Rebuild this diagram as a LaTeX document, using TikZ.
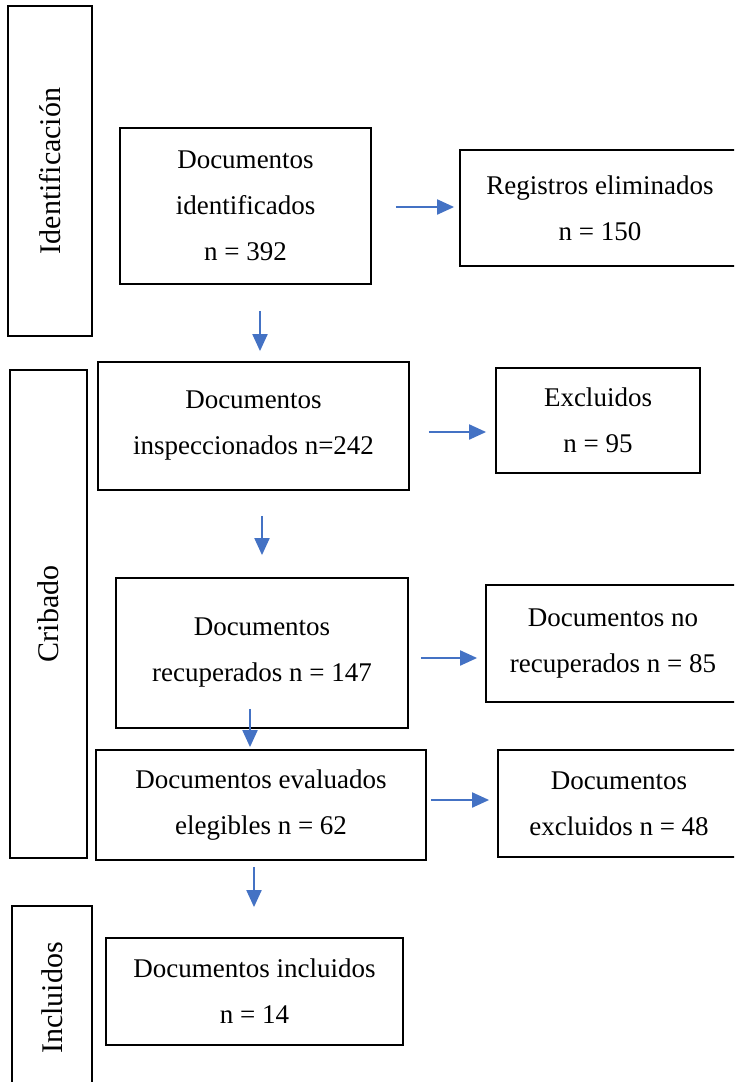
\documentclass[tikz,border=0pt]{standalone}
\usepackage{fontspec}
\setmainfont{Liberation Serif}
\usetikzlibrary{arrows.meta}
\definecolor{azulflecha}{HTML}{4472C4}

\begin{document}
\begin{tikzpicture}[x=1pt,y=-1pt,
    caja/.style={draw,line width=1.8pt,align=center,inner sep=0pt,font=\fontsize{27}{46}\selectfont},
    fase/.style={draw,line width=1.8pt,inner sep=0pt,rotate=90,font=\fontsize{30}{36}\selectfont},
    flecha/.style={draw=azulflecha,line width=2pt,-{Triangle[length=17pt,width=15pt]}}]
                \useasboundingbox (0,0) rectangle (734,1082);
                \clip (0,0) rectangle (734,1082);

                % fases
                \node[fase,minimum width=330pt,minimum height=84pt] (fid) at (50,171) {Identificación};
                \node[fase,minimum width=488pt,minimum height=77pt] (fcr) at (48.5,614) {Cribado};
                \node[fase,minimum width=184pt,minimum height=80pt] (fin) at (52,998) {Incluidos};

                % cajas
                \node[caja,minimum width=251pt,minimum height=156pt] (idn) at (245.5,206) {Documentos\\identificados\\n = 392};
                \node[caja,minimum width=280pt,minimum height=116pt] (reg) at (600,208) {Registros eliminados\\n = 150};

                \node[caja,minimum width=311pt,minimum height=128pt] (insp) at (253.5,426) {Documentos\\inspeccionados n=242};
                \node[caja,minimum width=204pt,minimum height=105pt] (excl) at (598,420.5) {Excluidos\\n = 95};

                \node[caja,minimum width=292pt,minimum height=150pt] (recu) at (262,653) {Documentos\\recuperados n = 147};
                \node[caja,minimum width=254pt,minimum height=117pt] (norec) at (613,643.5) {Documentos no\\recuperados n = 85};

                \node[caja,minimum width=330pt,minimum height=110pt] (eval) at (261,805) {Documentos evaluados\\elegibles n = 62};
                \node[caja,minimum width=242pt,minimum height=107pt] (exclu) at (619,803.5) {Documentos\\excluidos n = 48};

                \node[caja,minimum width=297pt,minimum height=107pt] (incl) at (254.5,991.5) {Documentos incluidos\\n = 14};

                % flechas
                \draw[flecha,shorten <=24pt,shorten >=5pt] (idn.east |- 0,207) -- (reg.west |- 0,207);
                \draw[flecha,shorten <=26pt,shorten >=10pt] (260,0 |- idn.south) -- (260,0 |- insp.north);
                \draw[flecha,shorten <=19pt,shorten >=9pt] (insp.east |- 0,432) -- (excl.west |- 0,432);
                \draw[flecha,shorten <=25pt,shorten >=22pt] (262,0 |- insp.south) -- (262,0 |- recu.north);
                \draw[flecha,shorten <=12pt,shorten >=8pt] (recu.east |- 0,658) -- (norec.west |- 0,658);
                \draw[flecha,shorten <=-20pt,shorten >=2pt] (250,0 |- recu.south) -- (250,0 |- eval.north);
                \draw[flecha,shorten <=4pt,shorten >=8pt] (eval.east |- 0,800) -- (exclu.west |- 0,800);
                \draw[flecha,shorten <=6pt,shorten >=30pt] (254,0 |- eval.south) -- (254,0 |- incl.north);
            \end{tikzpicture}
\end{document}
